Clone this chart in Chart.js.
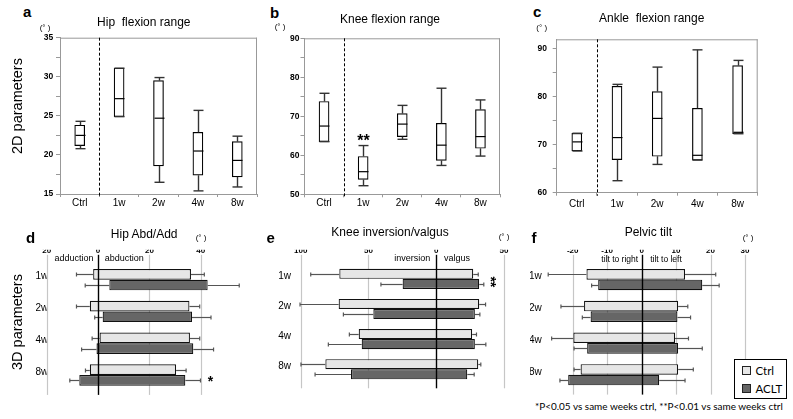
<!DOCTYPE html>
<html>
<head>
<meta charset="utf-8">
<script src="https://cdn.jsdelivr.net/npm/chart.js@4.4.0/dist/chart.umd.min.js"></script>
<style>
  body { margin: 0; width: 793px; height: 419px; position: relative; overflow: hidden; background: #fff;
         font-family: "Liberation Sans", Arial, sans-serif; }
  canvas { position: absolute; }
  .t { position: absolute; white-space: pre; line-height: 1; color: #000; }
  .legend { position: absolute; left: 733.5px; top: 359px; width: 53px; height: 40px; box-sizing: border-box;
            border: 1.5px solid #000; background: #fff; font-family: Lato, sans-serif; font-size: 11.5px; }
  .legend .sq { position: absolute; left: 7px; width: 7px; height: 7px; border: 1px solid #222; }
  .legend .lb { position: absolute; left: 21px; line-height: 1; }
</style>
</head>
<body>
<canvas id="hip" width="265" height="190" style="left:0;top:28px"></canvas>
<canvas id="knee" width="265" height="190" style="left:265px;top:28px"></canvas>
<canvas id="ankle" width="263" height="190" style="left:530px;top:28px"></canvas>
<canvas id="abd" width="265" height="160" style="left:0;top:240px"></canvas>
<canvas id="inv" width="265" height="160" style="left:265px;top:240px"></canvas>
<canvas id="pelvic" width="263" height="160" style="left:530px;top:240px"></canvas>
<div class="legend">
  <div class="sq" style="top:6px;background:#e6e6e6"></div><div class="lb" style="top:4.5px">Ctrl</div>
  <div class="sq" style="top:24px;background:#666"></div><div class="lb" style="top:22.5px">ACLT</div>
</div>
<script>
const groups = ["Ctrl", "1w", "2w", "4w", "8w"];
const weeks = ["1w", "2w", "4w", "8w"];

// 2D: box plots (min, q1, median, q3, max)
const hipMin = [20.8, 24.9, 16.5, 15.4, 15.9];
const hipQ1 = [21.2, 24.9, 18.6, 17.4, 17.2];
const hipMed = [22.5, 27.2, 24.7, 20.5, 19.3];
const hipQ3 = [23.8, 31.1, 29.5, 22.9, 21.7];
const hipMax = [24.3, 31.1, 29.9, 25.7, 22.4];
const hipSig = ["", "", "", "", ""];

const kneeMin = [63.5, 52.2, 64.1, 57.4, 59.8];
const kneeQ1 = [63.5, 53.8, 64.8, 58.7, 61.8];
const kneeMed = [67.5, 55.8, 68.0, 62.6, 64.8];
const kneeQ3 = [73.8, 59.7, 70.7, 68.2, 71.7];
const kneeMax = [75.9, 62.5, 72.8, 77.2, 74.2];
const kneeSig = ["", "**", "", "", ""];

const ankleMin = [68.7, 62.5, 65.9, 66.8, 72.3];
const ankleQ1 = [68.7, 66.9, 67.6, 66.8, 72.3];
const ankleMed = [70.6, 71.5, 75.5, 67.8, 72.6];
const ankleQ3 = [72.4, 82.2, 81.1, 77.6, 86.5];
const ankleMax = [72.4, 82.6, 86.2, 89.8, 87.6];
const ankleSig = ["", "", "", "", ""];

// 3D: range bars (start, end) with error ends
const abdCtrlLo = [-1.9, -3.2, 0.6, -3.2];
const abdCtrlHi = [36.2, 35.6, 35.8, 30.4];
const abdCtrlErrLo = [-8.4, -8.4, -2.3, -4.9];
const abdCtrlErrHi = [41.4, 39.6, 39.6, 34.3];
const abdAcltLo = [4.4, 1.8, -0.6, -7.3];
const abdAcltHi = [42.7, 36.6, 37.1, 34.0];
const abdAcltErrLo = [-5.0, -1.3, -6.4, -11.0];
const abdAcltErrHi = [55.0, 44.0, 45.0, 39.9];
const abdSig = ["", "", "", "*"];
const abdTicks = [-20, 0, 20, 40];

const invCtrlLo = [-71.5, -72.0, -57.2, -81.8];
const invCtrlHi = [27.3, 31.7, 26.5, 31.0];
const invCtrlErrLo = [-92.6, -100.5, -64.1, -99.8];
const invCtrlErrHi = [31.0, 36.4, 29.7, 32.9];
const invAcltLo = [-24.8, -46.4, -55.0, -62.9];
const invAcltHi = [31.7, 28.5, 28.5, 22.9];
const invAcltErrLo = [-40.8, -68.5, -79.6, -89.4];
const invAcltErrHi = [35.1, 32.2, 36.6, 28.0];
const invSig = ["**", "", "", ""];
const invTicks = [-100, -50, 0, 50];

const pelCtrlLo = [-16.0, -16.7, -19.8, -17.7];
const pelCtrlHi = [12.6, 10.6, 9.7, 10.6];
const pelCtrlErrLo = [-27.1, -23.4, -26.1, -19.6];
const pelCtrlErrHi = [21.5, 13.4, 13.6, 15.0];
const pelAcltLo = [-12.6, -14.8, -15.8, -21.3];
const pelAcltHi = [17.6, 10.4, 10.6, 5.1];
const pelAcltErrLo = [-14.5, -17.2, -19.6, -23.7];
const pelAcltErrHi = [22.5, 14.2, 17.6, 12.6];
const pelSig = ["", "", "", ""];
const pelTicks = [-20, -10, 0, 10, 20, 30];

function line(ctx, x1, y1, x2, y2) {
  ctx.beginPath();
  ctx.moveTo(x1, y1);
  ctx.lineTo(x2, y2);
  ctx.stroke();
}

const boxPlot = {
  id: "boxPlot",
  beforeDatasetsDraw(chart) {
    const { ctx, chartArea: a, scales: { x } } = chart;
    ctx.save();
    ctx.strokeStyle = "#999";
    ctx.lineWidth = 1;
    line(ctx, a.left, a.top + 0.5, a.right, a.top + 0.5);
    line(ctx, a.right - 0.5, a.top, a.right - 0.5, a.bottom);
    // dashed divider between Ctrl and the weeks
    const dx = Math.round((x.getPixelForValue(0) + x.getPixelForValue(1)) / 2) + 0.5;
    ctx.strokeStyle = "#000";
    ctx.setLineDash([3, 2]);
    line(ctx, dx, a.top, dx, a.bottom + 3);
    ctx.restore();
  },
  afterDatasetsDraw(chart) {
    const { ctx, scales: { y } } = chart;
    const ds = chart.data.datasets[0];
    ctx.save();
    chart.getDatasetMeta(0).data.forEach((bar, i) => {
      const half = bar.width / 2;
      const cx = Math.round(bar.x) + 0.5;
      const yMax = y.getPixelForValue(ds.maxs[i]);
      const yMin = y.getPixelForValue(ds.mins[i]);
      ctx.strokeStyle = "#333";
      ctx.lineWidth = 1.4;
      line(ctx, cx, yMax, cx, y.getPixelForValue(ds.data[i][1]));
      line(ctx, cx, y.getPixelForValue(ds.data[i][0]), cx, yMin);
      line(ctx, cx - half, yMax, cx + half, yMax);
      line(ctx, cx - half, yMin, cx + half, yMin);
      ctx.strokeStyle = "#000";
      ctx.lineWidth = 1.2;
      const ym = y.getPixelForValue(ds.meds[i]);
      line(ctx, cx - half, ym, cx + half, ym);
      if (ds.sig[i]) {
        ctx.fillStyle = "#000";
        ctx.font = "bold 16px 'Liberation Sans', Arial";
        ctx.textAlign = "center";
        ctx.textBaseline = "alphabetic";
        ctx.fillText(ds.sig[i], cx, yMax);
      }
    });
    ctx.restore();
  }
};

function boxChart(id, mins, q1s, meds, q3s, maxs, sig, yMin, yMax, step, labelStep, pad, xPad, yPad) {
  new Chart(document.getElementById(id), {
    type: "bar",
    data: {
      labels: groups,
      datasets: [{
        data: q1s.map((v, i) => [v, q3s[i]]),
        mins: mins,
        meds: meds,
        maxs: maxs,
        sig: sig,
        backgroundColor: "#fff",
        borderColor: "#000",
        borderWidth: 1.2,
        borderSkipped: false,
        barThickness: 10,
      }],
    },
    options: {
      responsive: false,
      animation: false,
      layout: { padding: pad },
      plugins: { legend: { display: false }, tooltip: { enabled: false } },
      scales: {
        x: {
          grid: { drawOnChartArea: false, tickLength: 3, color: "#999", offset: true },
          border: { color: "#999" },
          ticks: { color: "#000", font: { size: 10 }, padding: xPad },
          afterFit: (s) => { s.height = 20; },
        },
        y: {
          min: yMin,
          max: yMax,
          grid: { drawOnChartArea: false, tickLength: 4, color: "#999" },
          border: { color: "#999" },
          ticks: {
            stepSize: step,
            includeBounds: false,
            color: "#000",
            font: { size: 8.5, weight: "bold" },
            padding: yPad,
            callback: (v) => (v % labelStep === 0 ? v : ""),
          },
          afterFit: (s) => { s.width = 22; },
        },
      },
    },
    plugins: [boxPlot],
  });
}

const rangeBars = {
  id: "rangeBars",
  beforeDatasetsDraw(chart) {
    const { ctx, chartArea: a, scales: { x } } = chart;
    ctx.save();
    ctx.strokeStyle = "#c6c6c6";
    ctx.lineWidth = 1.2;
    x.ticks.forEach((t) => {
      if (t.value === 0) return;
      const px = Math.round(x.getPixelForValue(t.value)) + 0.5;
      line(ctx, px, a.top - 9, px, a.bottom + 4);
    });
    ctx.restore();
  },
  afterDatasetsDraw(chart) {
    const { ctx, chartArea: a, scales: { x } } = chart;
    ctx.save();
    ctx.strokeStyle = "#555";
    ctx.lineWidth = 1.2;
    chart.data.datasets.forEach((ds, di) => {
      chart.getDatasetMeta(di).data.forEach((bar, i) => {
        const yc = Math.round(bar.y) + 0.5;
        const l = x.getPixelForValue(ds.data[i][0]);
        const r = x.getPixelForValue(ds.data[i][1]);
        const el = x.getPixelForValue(ds.errLo[i]);
        const er = x.getPixelForValue(ds.errHi[i]);
        line(ctx, el, yc, l, yc);
        line(ctx, el, yc - 2, el, yc + 2);
        line(ctx, r, yc, er, yc);
        line(ctx, er, yc - 2, er, yc + 2);
      });
    });
    const z = Math.round(x.getPixelForValue(0)) + 0.5;
    ctx.strokeStyle = "#000";
    ctx.lineWidth = 1.4;
    line(ctx, z, a.top - 9, z, a.bottom + 4);
    // significance marks beside the ACLT bars
    const sig = chart.data.datasets[1].sig;
    const errHi = chart.data.datasets[1].errHi;
    const y = chart.scales.y;
    ctx.fillStyle = "#000";
    ctx.font = "bold 14px 'Liberation Sans', Arial";
    ctx.textAlign = "center";
    sig.forEach((s, i) => {
      if (!s) return;
      const px = Math.max(x.getPixelForValue(errHi[i]), x.getPixelForValue(chart.data.datasets[0].errHi[i])) + 10;
      const py = y.getPixelForValue(i) + 3;
      ctx.save();
      ctx.translate(px, py);
      if (s.length > 1) ctx.rotate(Math.PI / 2);
      ctx.textBaseline = "middle";
      ctx.fillText(s, 0, 4);
      ctx.restore();
    });
    ctx.restore();
  }
};

function rangeChart(id, ctrl, aclt, sig, xMin, xMax, xTicks, absLabels, pad, yPad, xPad) {
  new Chart(document.getElementById(id), {
    type: "bar",
    data: {
      labels: weeks,
      datasets: [
        {
          label: "Ctrl",
          data: ctrl[0].map((v, i) => [v, ctrl[1][i]]),
          errLo: ctrl[2],
          errHi: ctrl[3],
          sig: sig,
          backgroundColor: "#e6e6e6",
          borderColor: "#111",
          borderWidth: 1.2,
          borderSkipped: false,
        },
        {
          label: "ACLT",
          data: aclt[0].map((v, i) => [v, aclt[1][i]]),
          errLo: aclt[2],
          errHi: aclt[3],
          sig: sig,
          backgroundColor: "#666666",
          borderColor: "#111",
          borderWidth: 1.2,
          borderSkipped: false,
        },
      ],
    },
    options: {
      indexAxis: "y",
      responsive: false,
      animation: false,
      layout: { padding: pad },
      datasets: { bar: { barPercentage: 1, categoryPercentage: 0.67 } },
      plugins: { legend: { display: false }, tooltip: { enabled: false } },
      scales: {
        x: {
          position: "top",
          min: xMin,
          max: xMax,
          grid: { display: false, drawTicks: false },
          border: { display: false },
          afterBuildTicks: (s) => { s.ticks = xTicks.map((v) => ({ value: v })); },
          ticks: {
            color: "#000",
            font: { size: 8, weight: "bold" },
            padding: xPad,
            callback: (v) => (absLabels ? Math.abs(v) : v),
          },
          afterFit: (s) => { s.height = 14; },
        },
        y: {
          grid: { display: false, drawTicks: false },
          border: { display: false },
          ticks: { color: "#000", font: { size: 10 }, padding: yPad, labelOffset: -3 },
          afterFit: (s) => { s.width = id === "abd" ? 30 : id === "inv" ? 25 : 15; },
        },
      },
    },
    plugins: [rangeBars],
  });
}

boxChart("hip", hipMin, hipQ1, hipMed, hipQ3, hipMax, hipSig, 15, 35, 2.5, 5,
  { top: 9.7, bottom: 4, left: 38, right: 8 }, 0, 2.7);
boxChart("knee", kneeMin, kneeQ1, kneeMed, kneeQ3, kneeMax, kneeSig, 50, 90, 5, 10,
  { top: 10.3, bottom: 3.7, left: 17.5, right: 30 }, -0.5, 1);
boxChart("ankle", ankleMin, ankleQ1, ankleMed, ankleQ3, ankleMax, ankleSig, 60, 92, 5, 10,
  { top: 11.3, bottom: 5.3, left: 4.7, right: 35.3 }, 3, 5.7);

rangeChart("abd", [abdCtrlLo, abdCtrlHi, abdCtrlErrLo, abdCtrlErrHi],
  [abdAcltLo, abdAcltHi, abdAcltErrLo, abdAcltErrHi], abdSig, -20, 56, abdTicks, true,
  { top: 9.8, bottom: 9.1, left: 16.7, right: 23.2 }, -1.6, 8.4);
rangeChart("inv", [invCtrlLo, invCtrlHi, invCtrlErrLo, invCtrlErrHi],
  [invAcltLo, invAcltHi, invAcltErrLo, invAcltErrHi], invSig, -100, 50, invTicks, true,
  { top: 9.8, bottom: 9.1, left: 10.7, right: 26 }, 9.7, 8.4);
rangeChart("pelvic", [pelCtrlLo, pelCtrlHi, pelCtrlErrLo, pelCtrlErrHi],
  [pelAcltLo, pelAcltHi, pelAcltErrLo, pelAcltErrHi], pelSig, -28, 32, pelTicks, false,
  { top: 9.8, bottom: 9.1, left: 0.1, right: 41.1 }, 3.4, 8.4);

// annotation text
function addText(str, x, base, size, opt) {
  opt = opt || {};
  const el = document.createElement("div");
  el.className = "t";
  el.textContent = str;
  el.style.fontSize = size + "px";
  if (opt.bold) el.style.fontWeight = "bold";
  if (opt.family) el.style.fontFamily = opt.family;
  document.body.appendChild(el);
  if (opt.width) {
    size = size * opt.width / el.getBoundingClientRect().width;
    el.style.fontSize = size + "px";
  }
  const ratio = opt.family ? 0.887 : 0.8465;
  el.style.top = (base - ratio * size) + "px";
  const w = el.getBoundingClientRect().width;
  el.style.left = (opt.align === "left" ? x : x - w / 2) + "px";
  return el;
}

function addVertical(str, cx, cy, size) {
  const el = document.createElement("div");
  el.className = "t";
  el.textContent = str;
  el.style.fontSize = size + "px";
  el.style.left = cx + "px";
  el.style.top = cy + "px";
  el.style.transform = "translate(-50%, -50%) rotate(-90deg)";
  document.body.appendChild(el);
}

addText("a", 23, 17, 15, { bold: true, align: "left" });
addText("b", 270, 17.3, 15, { bold: true, align: "left" });
addText("c", 533, 16.7, 15, { bold: true, align: "left" });
addText("d", 26, 242.3, 15, { bold: true, align: "left" });
addText("e", 266.5, 242.3, 15, { bold: true, align: "left" });
addText("f", 531.5, 242.3, 15, { bold: true, align: "left" });

addText("Hip  flexion range", 143.8, 26, 12);
addText("Knee flexion range", 390, 22.7, 12);
addText("Ankle  flexion range", 651.7, 21.7, 12);
addText("Hip Abd/Add", 144.2, 238.3, 12);
addText("Knee inversion/valgus", 390, 235.7, 12);
addText("Pelvic tilt", 648.3, 235.7, 12);

addText("(° )", 45, 31, 8);
addText("(° )", 280, 30, 8);
addText("(° )", 541.7, 31, 8);
addText("(° )", 201, 241, 8);
addText("(° )", 504, 240, 8);
addText("(° )", 748, 241, 8);

addText("adduction", 74, 261.5, 9);
addText("abduction", 124.2, 261.5, 9);
addText("inversion", 412.2, 262, 9);
addText("valgus", 457, 262, 9);
addText("tilt to right", 619.7, 262, 8.5);
addText("tilt to left", 666, 262, 8.5);

addVertical("2D parameters", 17, 106, 14.5);
addVertical("3D parameters", 17, 322, 14.5);

addText("*P<0.05 vs same weeks ctrl, **P<0.01 vs same weeks ctrl", 535, 411, 10,
  { family: "Lato, sans-serif", align: "left", width: 248 });
</script>
</body>
</html>
